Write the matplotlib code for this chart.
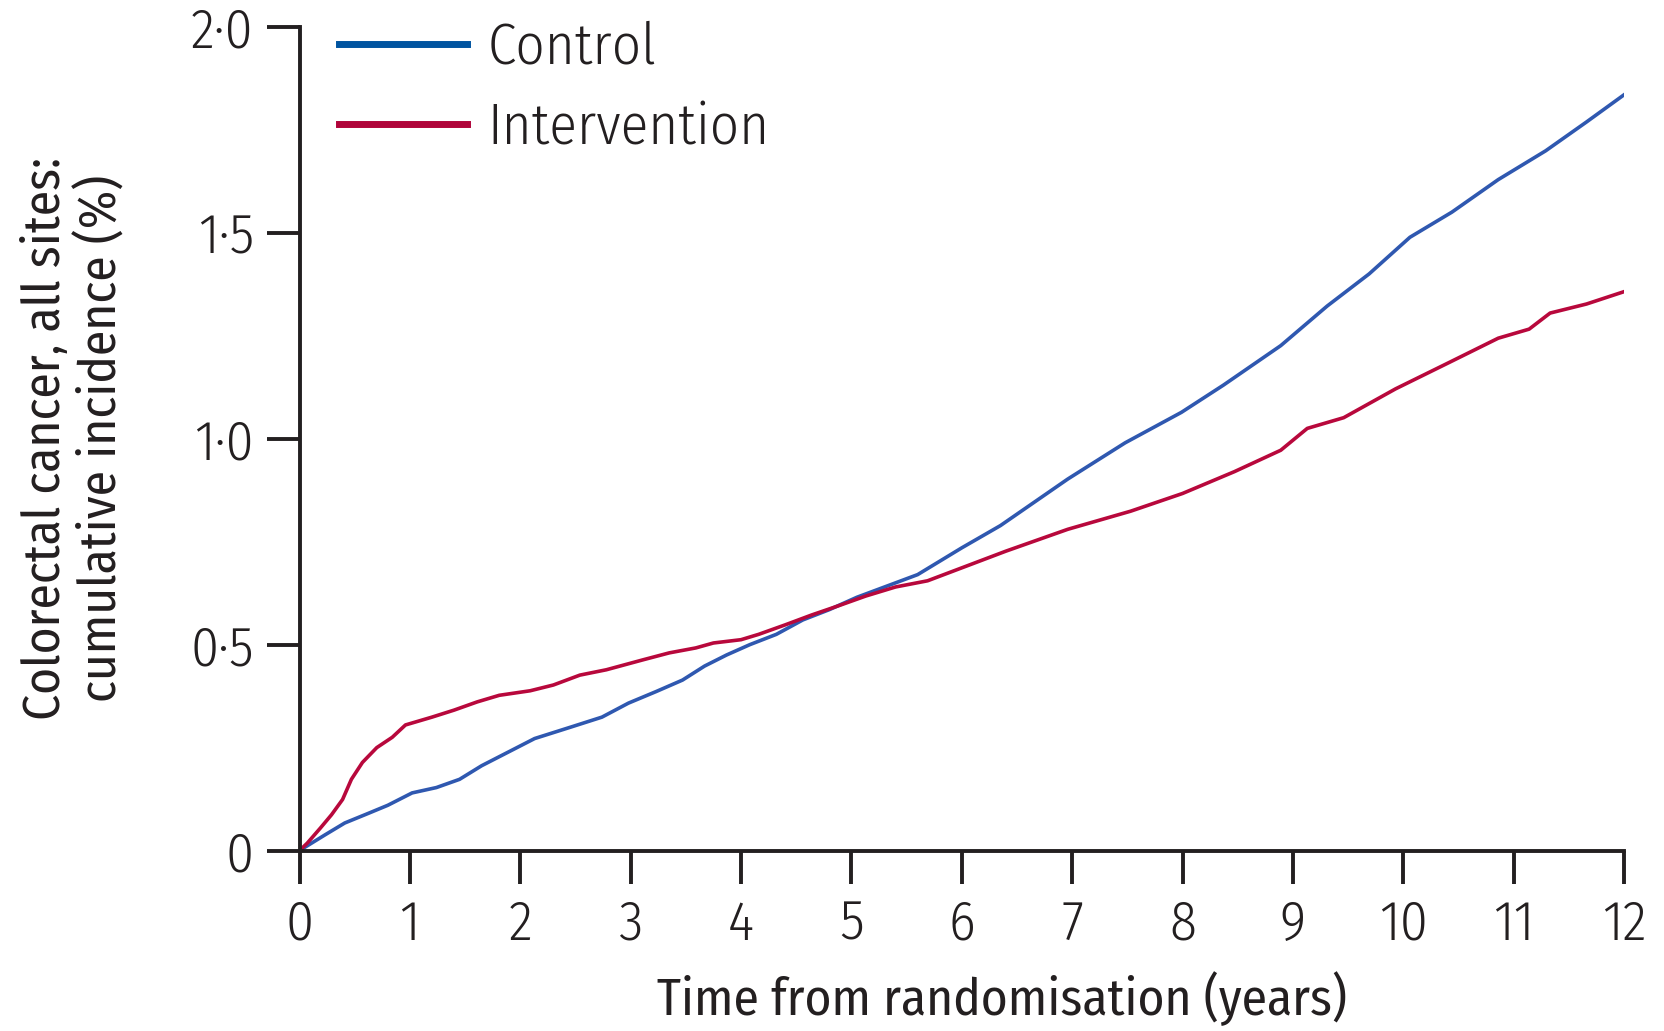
import numpy as np
import matplotlib
matplotlib.use("Agg")
import matplotlib.pyplot as plt

# Cumulative incidence (years, %)
control_t = [0, 0.23, 0.41, 0.62, 0.80, 1.02, 1.24, 1.45, 1.65, 1.89, 2.13, 2.46,
             2.74, 2.98, 3.23, 3.47, 3.67, 3.87, 4.08, 4.32, 4.56, 4.80, 5.05, 5.35,
             5.60, 6.0, 6.35, 6.96, 7.48, 7.99, 8.37, 8.89, 9.31, 9.69, 10.06, 10.44,
             10.86, 11.29, 11.66, 12.0]
control_v = [0, 0.038, 0.067, 0.09, 0.11, 0.14, 0.153, 0.173, 0.206, 0.239, 0.272, 0.30,
             0.324, 0.358, 0.386, 0.414, 0.448, 0.475, 0.50, 0.525, 0.56, 0.585, 0.615, 0.645,
             0.67, 0.735, 0.789, 0.902, 0.99, 1.064, 1.13, 1.226, 1.322, 1.40, 1.489, 1.55,
             1.629, 1.699, 1.769, 1.835]

interv_t = [0, 0.07, 0.19, 0.29, 0.39, 0.47, 0.57, 0.70, 0.84, 0.96, 1.20, 1.40, 1.61,
            1.81, 2.09, 2.30, 2.54, 2.78, 3.11, 3.35, 3.59, 3.75, 4.00, 4.16, 4.40, 4.64,
            4.89, 5.13, 5.40, 5.69, 6.40, 6.96, 7.53, 8.00, 8.47, 8.89, 9.13, 9.46, 9.93,
            10.40, 10.86, 11.14, 11.33, 11.66, 12.0]
interv_v = [0, 0.018, 0.055, 0.087, 0.124, 0.173, 0.214, 0.25, 0.275, 0.305, 0.324, 0.341, 0.361,
            0.377, 0.388, 0.402, 0.426, 0.439, 0.463, 0.48, 0.492, 0.504, 0.512, 0.525, 0.548, 0.572,
            0.595, 0.618, 0.64, 0.655, 0.727, 0.78, 0.824, 0.867, 0.92, 0.972, 1.025, 1.051, 1.121,
            1.183, 1.244, 1.266, 1.305, 1.327, 1.357]

x_ticks = list(range(0, 13))
y_ticks = [0, 0.5, 1.0, 1.5, 2.0]
y_ticklabels = ["0", "0·5", "1·0", "1·5", "2·0"]

ink = "#231f20"
plt.rcParams["font.family"] = ["Fira Sans Condensed", "DejaVu Sans"]
plt.rcParams["font.weight"] = 300
plt.rcParams["text.color"] = ink

fig = plt.figure(figsize=(16.64, 10.31), dpi=100)
ax = fig.add_axes([0.180, 0.175, 0.796, 0.799])

ax.plot(control_t, control_v, color="#2f58b0", lw=2.6, label="Control")
ax.plot(interv_t, interv_v, color="#b8083c", lw=2.6, label="Intervention")

ax.set_xlim(0, 12)
ax.set_ylim(0, 2.0)
ax.set_xticks(x_ticks)
ax.set_yticks(y_ticks)
ax.set_yticklabels(y_ticklabels)

for s in ["top", "right"]:
    ax.spines[s].set_visible(False)
for s in ["left", "bottom"]:
    ax.spines[s].set_linewidth(2.8)
    ax.spines[s].set_color(ink)
ax.tick_params(direction="out", length=24, width=2.8, color=ink, labelcolor=ink,
               labelsize=40)
ax.tick_params(axis="x", pad=10)
ax.tick_params(axis="y", pad=9)

ax.set_xlabel("Time from randomisation (years)", fontsize=37, color=ink)
ax.xaxis.set_label_coords(0.53, -0.146)
ax.set_ylabel("Colorectal cancer, all sites:\ncumulative incidence (%)", fontsize=37,
              color=ink, linespacing=1.12)
ax.yaxis.set_label_coords(-0.13, 0.5)

leg = ax.legend(loc="upper left", bbox_to_anchor=(0.03, 1.008), frameon=False,
                fontsize=41, handlelength=2.25, handletextpad=0.35, labelspacing=0.45,
                borderpad=0, borderaxespad=0)
for line in leg.get_lines():
    line.set_linewidth(5)
leg.get_lines()[0].set_color("#0054a0")
leg.get_lines()[1].set_color("#b0043a")

fig.savefig("out.png", dpi=100)
